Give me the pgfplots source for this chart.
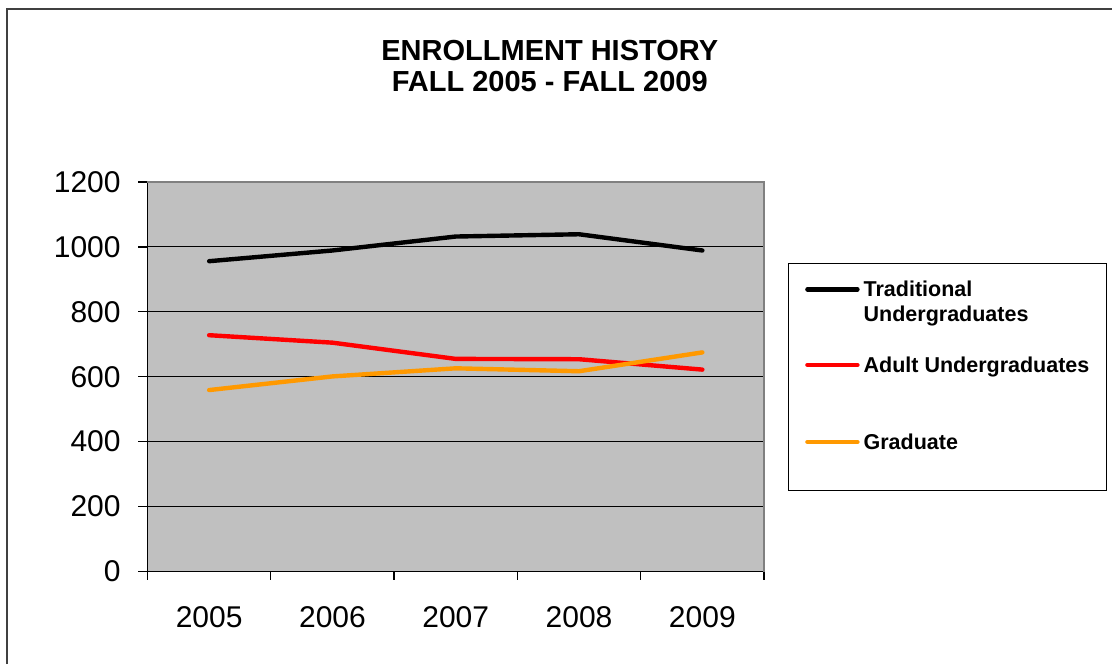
\documentclass[border=0pt]{standalone}
\usepackage{fontspec}
\setmainfont{Liberation Sans}
\usepackage{pgfplots}
\pgfplotsset{compat=1.18}

\definecolor{plotgray}{HTML}{C0C0C0}
\definecolor{gradorange}{HTML}{FF9900}
\definecolor{framegray}{HTML}{808080}

\begin{document}
\begin{tikzpicture}
\useasboundingbox (0,0) rectangle (556pt,332pt);
% outer chart frame (only left and top edges are visible)
\draw[line width=0.75pt, black!75] (3.5pt,0) -- (3.5pt,327.5pt) -- (556pt,327.5pt);

\begin{axis}[
  at={(73.75pt,46.25pt)}, anchor=south west,
  scale only axis, width=308.25pt, height=194.75pt,
  xmin=-0.5, xmax=4.5, ymin=0, ymax=1200,
  axis x line*=bottom, axis y line*=left,
  axis line style={black, line width=0.6pt},
  axis background/.style={fill=plotgray},
  xtick={0,...,4}, xticklabels={2005,2006,2007,2008,2009},
  minor xtick={-0.5,0.5,...,4.5},
  ytick={0,200,...,1200},
  tick align=outside,
  major tick length=4.5pt, minor tick length=4pt,
  major x tick style={draw=none},
  minor x tick style={black, line width=0.6pt},
  major y tick style={black, line width=0.6pt},
  ymajorgrids, major grid style={black, line width=0.5pt},
  ticklabel style={font=\fontsize{15}{18}\selectfont},
  /pgf/number format/assume math mode=true,
  /pgf/number format/1000 sep={},
  yticklabel style={anchor=east, inner sep=0pt, xshift=-8.75pt},
  xticklabel style={anchor=north, inner sep=0pt, yshift=-13pt},
  title={ENROLLMENT HISTORY\\FALL 2005 - FALL 2009},
  title style={at={(axis description cs:0.6525,1.335)}, anchor=north, align=center,
    yshift=0pt, inner sep=0pt, font=\fontsize{14.5}{15.5}\selectfont\bfseries},
  legend style={at={(axis description cs:1.039,0.792)}, anchor=north west,
    draw=black, line width=0.5pt, fill=white,
    inner xsep=8.35pt, inner ysep=7.95pt, row sep=12.8pt, column sep=2pt,
    cells={anchor=base west},
    nodes={inner sep=0pt, text depth=, text height=,
      font=\fontsize{10.75}{12.5}\selectfont\bfseries}},
  legend image code/.code={\draw[#1] (1pt,3.8pt) -- (26pt,3.8pt);},
  after end axis/.code={
    \draw[framegray, line width=0.75pt] (rel axis cs:0,1) -- (rel axis cs:1,1) -- (rel axis cs:1,0);
  },
]
\addplot[black, line width=2.2pt, line cap=round, line join=round]
  coordinates {(0,956) (1,989) (2,1032) (3,1039) (4,989)};
\addlegendentry{\begin{tabular}[t]{@{}l@{}}Traditional\\Undergraduates\end{tabular}}
\addplot[red, line width=2.2pt, line cap=round, line join=round]
  coordinates {(0,728) (1,705) (2,655) (3,654) (4,622)};
\addlegendentry{Adult Undergraduates\rule[-16.95pt]{0pt}{25.7pt}}
\addplot[gradorange, line width=2.2pt, line cap=round, line join=round]
  coordinates {(0,559) (1,601) (2,626) (3,617) (4,675)};
\addlegendentry{Graduate\rule[-12.75pt]{0pt}{21.5pt}}
\end{axis}
\end{tikzpicture}
\end{document}
